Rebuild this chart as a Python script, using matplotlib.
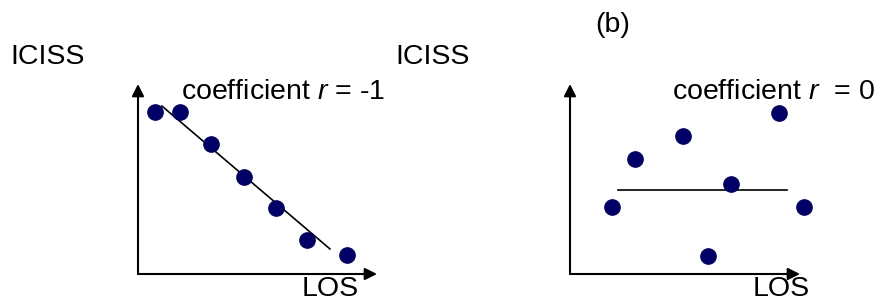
import matplotlib
matplotlib.use("Agg")
import matplotlib.pyplot as plt

plt.rcParams['font.family'] = ['Liberation Sans', 'DejaVu Sans']
plt.rcParams['mathtext.fontset'] = 'custom'
plt.rcParams['mathtext.rm'] = 'Liberation Sans'
plt.rcParams['mathtext.it'] = 'Liberation Sans:italic'

# panel (a): perfect negative correlation
neg_x = [0.71, 1.76, 3.05, 4.44, 5.77, 7.07, 8.74]
neg_y = [8.53, 8.53, 6.84, 5.11, 3.47, 1.79, 1.00]
neg_fit_x = [1.0, 8.03]
neg_fit_y = [8.84, 1.32]

# panel (b): no correlation
zero_x = [1.83, 2.83, 4.91, 6.00, 7.00, 9.09, 10.17]
zero_y = [3.53, 6.05, 7.26, 0.95, 4.74, 8.47, 3.53]
zero_fit_x = [2.09, 9.43]
zero_fit_y = [4.42, 4.42]

dot_color = '#000066'
fs = 20.5

fig = plt.figure(figsize=(8.8, 3.03), dpi=100)

def draw_panel(rect, xs, ys, fx, fy):
    ax = fig.add_axes(rect)
    ax.set_xlim(0, 10)
    ax.set_ylim(0, 10)
    ax.axis('off')
    ax.plot(fx, fy, color='black', lw=1.2)
    ax.plot(xs, ys, 'o', color=dot_color, ms=11, clip_on=False)
    arrow = dict(arrowstyle='-|>', color='black', lw=1.5, mutation_scale=18,
                 shrinkA=0, shrinkB=0)
    ax.annotate('', xy=(1, 0), xytext=(0, 0), xycoords='axes fraction',
                arrowprops=arrow)
    ax.annotate('', xy=(0, 1), xytext=(0, 0), xycoords='axes fraction',
                arrowprops=arrow)
    return ax

draw_panel([138 / 880, 29 / 303, 239 / 880, 190 / 303],
           neg_x, neg_y, neg_fit_x, neg_fit_y)
draw_panel([570 / 880, 29 / 303, 230 / 880, 190 / 303],
           zero_x, zero_y, zero_fit_x, zero_fit_y)

def px(x, y):
    return x / 880, 1 - y / 303

fig.text(*px(10, 57), 'ICISS', fontsize=fs, va='center', ha='left')
fig.text(*px(395, 57), 'ICISS', fontsize=fs, va='center', ha='left')
fig.text(*px(595, 25), '(b)', fontsize=fs, va='center', ha='left')
fig.text(*px(181, 92), 'coefficient $r$ = -1', fontsize=fs, va='center', ha='left')
fig.text(*px(672, 92), 'coefficient $r$  = 0', fontsize=fs, va='center', ha='left')
fig.text(*px(302, 302), 'LOS', fontsize=fs, va='bottom', ha='left')
fig.text(*px(753, 302), 'LOS', fontsize=fs, va='bottom', ha='left')

fig.savefig('out.png', dpi=100)
